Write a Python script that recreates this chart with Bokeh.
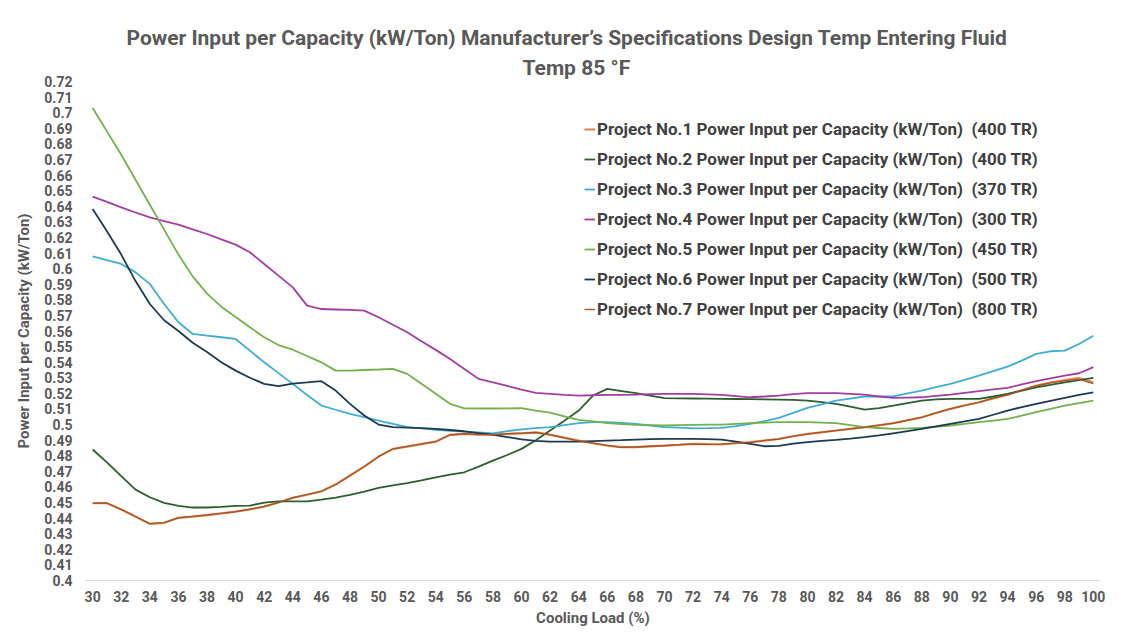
from bokeh.plotting import figure
from bokeh.models import Title, Legend, LegendItem, FixedTicker, Range1d
from bokeh.embed import file_html
from bokeh.resources import INLINE

loads = list(range(30, 101))

p1 = [0.4496, 0.4496, 0.4455, 0.4410, 0.4363, 0.4370, 0.4402, 0.4410, 0.4419, 0.4430,
      0.4442, 0.4456, 0.4474, 0.4500, 0.4530, 0.4550, 0.4572, 0.4615, 0.4673, 0.4730,
      0.4795, 0.4844, 0.4859, 0.4875, 0.4891, 0.4934, 0.4940, 0.4935, 0.4936, 0.4940,
      0.4944, 0.4950, 0.4935, 0.4915, 0.4897, 0.4880, 0.4865, 0.4855, 0.4855, 0.4860,
      0.4865, 0.4870, 0.4876, 0.4874, 0.4873, 0.4880, 0.4887, 0.4897, 0.4908, 0.4925,
      0.4940, 0.4950, 0.4962, 0.4972, 0.4983, 0.4995, 0.5009, 0.5027, 0.5047, 0.5074,
      0.5101, 0.5122, 0.5143, 0.5168, 0.5192, 0.5220, 0.5250, 0.5270, 0.5286, 0.5299,
      0.5271]
p2 = [0.4840, 0.4758, 0.4669, 0.4583, 0.4534, 0.4498, 0.4479, 0.4468, 0.4468, 0.4472,
      0.4479, 0.4480, 0.4500, 0.4508, 0.4508, 0.4508, 0.4519, 0.4532, 0.4549, 0.4570,
      0.4594, 0.4610, 0.4624, 0.4642, 0.4662, 0.4679, 0.4694, 0.4730, 0.4769, 0.4805,
      0.4844, 0.4900, 0.4962, 0.5025, 0.5090, 0.5186, 0.5229, 0.5215, 0.5201, 0.5185,
      0.5169, 0.5168, 0.5167, 0.5166, 0.5165, 0.5164, 0.5163, 0.5162, 0.5160, 0.5158,
      0.5154, 0.5144, 0.5133, 0.5115, 0.5096, 0.5105, 0.5122, 0.5138, 0.5154, 0.5162,
      0.5165, 0.5165, 0.5165, 0.5180, 0.5197, 0.5218, 0.5239, 0.5255, 0.5271, 0.5285,
      0.5299]
p3 = [0.6079, 0.6055, 0.6030, 0.5976, 0.5902, 0.5773, 0.5656, 0.5581, 0.5570, 0.5560,
      0.5549, 0.5474, 0.5399, 0.5330, 0.5261, 0.5190, 0.5122, 0.5095, 0.5068, 0.5047,
      0.5026, 0.5004, 0.4983, 0.4975, 0.4966, 0.4960, 0.4955, 0.4950, 0.4944, 0.4958,
      0.4969, 0.4977, 0.4983, 0.4996, 0.5009, 0.5015, 0.5015, 0.5010, 0.5004, 0.4994,
      0.4983, 0.4980, 0.4976, 0.4977, 0.4979, 0.4990, 0.5004, 0.5022, 0.5043, 0.5075,
      0.5107, 0.5130, 0.5154, 0.5167, 0.5180, 0.5180, 0.5180, 0.5200, 0.5218, 0.5240,
      0.5261, 0.5287, 0.5314, 0.5343, 0.5372, 0.5410, 0.5453, 0.5470, 0.5474, 0.5517,
      0.5570]
p4 = [0.6462, 0.6428, 0.6393, 0.6360, 0.6329, 0.6305, 0.6282, 0.6252, 0.6222, 0.6188,
      0.6154, 0.6105, 0.6030, 0.5955, 0.5880, 0.5763, 0.5741, 0.5738, 0.5735, 0.5731,
      0.5688, 0.5640, 0.5592, 0.5534, 0.5479, 0.5420, 0.5357, 0.5293, 0.5271, 0.5248,
      0.5224, 0.5203, 0.5197, 0.5190, 0.5186, 0.5188, 0.5190, 0.5191, 0.5192, 0.5195,
      0.5197, 0.5197, 0.5197, 0.5194, 0.5190, 0.5183, 0.5175, 0.5180, 0.5186, 0.5195,
      0.5201, 0.5201, 0.5201, 0.5197, 0.5192, 0.5180, 0.5171, 0.5173, 0.5175, 0.5184,
      0.5192, 0.5203, 0.5214, 0.5225, 0.5235, 0.5257, 0.5278, 0.5296, 0.5314, 0.5329,
      0.5368]
p5 = [0.7030, 0.6880, 0.6730, 0.6570, 0.6410, 0.6250, 0.6090, 0.5950, 0.5840, 0.5756,
      0.5690, 0.5624, 0.5560, 0.5510, 0.5480, 0.5440, 0.5399, 0.5346, 0.5346, 0.5350,
      0.5353, 0.5357, 0.5325, 0.5261, 0.5197, 0.5133, 0.5104, 0.5103, 0.5103, 0.5104,
      0.5106, 0.5090, 0.5076, 0.5053, 0.5030, 0.5020, 0.5009, 0.5003, 0.4998, 0.4996,
      0.4994, 0.4996, 0.4998, 0.4999, 0.5000, 0.5005, 0.5009, 0.5012, 0.5015, 0.5015,
      0.5015, 0.5012, 0.5009, 0.4996, 0.4983, 0.4978, 0.4972, 0.4975, 0.4979, 0.4986,
      0.4994, 0.5004, 0.5015, 0.5025, 0.5036, 0.5057, 0.5079, 0.5100, 0.5122, 0.5138,
      0.5154]
p6 = [0.6382, 0.6240, 0.6090, 0.5920, 0.5773, 0.5669, 0.5600, 0.5525, 0.5465, 0.5400,
      0.5346, 0.5300, 0.5261, 0.5246, 0.5263, 0.5270, 0.5278, 0.5218, 0.5133, 0.5058,
      0.5000, 0.4983, 0.4981, 0.4977, 0.4972, 0.4965, 0.4957, 0.4945, 0.4935, 0.4920,
      0.4905, 0.4895, 0.4890, 0.4890, 0.4890, 0.4894, 0.4897, 0.4900, 0.4904, 0.4906,
      0.4908, 0.4908, 0.4908, 0.4906, 0.4904, 0.4890, 0.4876, 0.4861, 0.4863, 0.4878,
      0.4887, 0.4895, 0.4902, 0.4910, 0.4919, 0.4930, 0.4944, 0.4958, 0.4972, 0.4988,
      0.5004, 0.5020, 0.5036, 0.5063, 0.5090, 0.5112, 0.5133, 0.5152, 0.5171, 0.5190,
      0.5207]
p7 = [0.4494, 0.4497, 0.4456, 0.4409, 0.4365, 0.4371, 0.4401, 0.4411, 0.4420, 0.4431,
      0.4441, 0.4457, 0.4475, 0.4499, 0.4531, 0.4551, 0.4571, 0.4616, 0.4672, 0.4731,
      0.4794, 0.4843, 0.4860, 0.4876, 0.4890, 0.4933, 0.4941, 0.4936, 0.4935, 0.4941,
      0.4945, 0.4949, 0.4934, 0.4916, 0.4896, 0.4881, 0.4866, 0.4854, 0.4856, 0.4861,
      0.4864, 0.4871, 0.4875, 0.4873, 0.4874, 0.4881, 0.4886, 0.4898, 0.4907, 0.4926,
      0.4939, 0.4951, 0.4961, 0.4973, 0.4982, 0.4996, 0.5008, 0.5028, 0.5046, 0.5075,
      0.5100, 0.5123, 0.5142, 0.5169, 0.5191, 0.5221, 0.5248, 0.5268, 0.5280, 0.5290,
      0.5262]

series_names = [
    "Project No.1 Power Input per Capacity (kW/Ton)  (400 TR)",
    "Project No.2 Power Input per Capacity (kW/Ton)  (400 TR)",
    "Project No.3 Power Input per Capacity (kW/Ton)  (370 TR)",
    "Project No.4 Power Input per Capacity (kW/Ton)  (300 TR)",
    "Project No.5 Power Input per Capacity (kW/Ton)  (450 TR)",
    "Project No.6 Power Input per Capacity (kW/Ton)  (500 TR)",
    "Project No.7 Power Input per Capacity (kW/Ton)  (800 TR)",
]
series_values = [p1, p2, p3, p4, p5, p6, p7]
colors = ["#E08A4E", "#2C5E30", "#3FADD3", "#A23DA3", "#72B14C", "#1E3A4E", "#A4532A"]
widths = [2.2, 1.8, 1.8, 1.8, 1.8, 1.8, 1.3]

x_ticks = list(range(30, 101, 2))
x_tick_labels = [str(v) for v in x_ticks]
y_ticks = [round(0.40 + 0.01 * i, 2) for i in range(33)]
y_tick_labels = [("%.2f" % v).rstrip("0").rstrip(".") for v in y_ticks]

title_line1 = "Power Input per Capacity (kW/Ton) Manufacturer\u2019s Specifications Design Temp Entering Fluid"
title_line2 = "Temp 85 \u00b0F"
x_title = "Cooling Load (%)"
y_title = "Power Input per Capacity (kW/Ton)"

FONT = "Roboto"
GRAY = "#595959"

p = figure(width=1144, height=632, output_backend="svg", toolbar_location=None,
           title=None, x_range=Range1d(29.5, 100.5), y_range=Range1d(0.40, 0.72),
           min_border_left=85, min_border_right=44, min_border_top=81, min_border_bottom=52)
p.background_fill_color = "white"
p.border_fill_color = "white"
p.outline_line_color = None
p.xgrid.visible = False
p.ygrid.visible = False

t2 = Title(text=title_line2, align="left", text_font=FONT, text_font_size="21px",
           text_font_style="bold", text_color=GRAY, offset=437, standoff=3)
p.add_layout(t2, "above")
t1 = Title(text=title_line1, align="left", text_font=FONT, text_font_size="21px",
           text_font_style="bold", text_color=GRAY, offset=41, standoff=6)
p.add_layout(t1, "above")

renderers = []
for vals, col, w in zip(series_values, colors, widths):
    r = p.line(loads, vals, line_color=col, line_width=w)
    renderers.append(r)

xa = p.xaxis[0]
xa.ticker = FixedTicker(ticks=x_ticks)
xa.major_label_overrides = dict(zip(x_ticks, x_tick_labels))
xa.axis_line_color = "#D9D9D9"
xa.axis_line_width = 1
xa.major_tick_line_color = None
xa.minor_tick_line_color = None
xa.major_tick_out = 0
xa.major_tick_in = 0
xa.minor_tick_out = 0
xa.major_label_text_font = FONT
xa.major_label_text_font_style = "bold"
xa.major_label_text_font_size = "14px"
xa.major_label_text_color = GRAY
xa.major_label_standoff = 10
xa.axis_label = x_title
xa.axis_label_text_font = FONT
xa.axis_label_text_font_style = "bold"
xa.axis_label_text_font_size = "15px"
xa.axis_label_text_color = GRAY
xa.axis_label_standoff = 4

ya = p.yaxis[0]
ya.ticker = FixedTicker(ticks=y_ticks)
ya.major_label_overrides = dict(zip(y_ticks, y_tick_labels))
ya.axis_line_color = None
ya.major_tick_line_color = None
ya.minor_tick_line_color = None
ya.major_tick_out = 0
ya.major_tick_in = 0
ya.minor_tick_out = 0
ya.major_label_text_font = FONT
ya.major_label_text_font_style = "bold"
ya.major_label_text_font_size = "14px"
ya.major_label_text_color = GRAY
ya.major_label_standoff = 13
ya.axis_label = y_title
ya.axis_label_text_font = FONT
ya.axis_label_text_font_style = "bold"
ya.axis_label_text_font_size = "15px"
ya.axis_label_text_color = GRAY
ya.axis_label_standoff = 8

items = [LegendItem(label=n, renderers=[r]) for n, r in zip(series_names, renderers)]
legend = Legend(items=items, location=(499, 256), orientation="vertical",
                label_text_font=FONT, label_text_font_style="bold", label_text_font_size="17px",
                label_text_color="#404040", glyph_width=11, glyph_height=30, label_height=30,
                label_standoff=2, spacing=0, padding=0, margin=0,
                border_line_color=None, background_fill_alpha=0)
p.add_layout(legend, "center")

open("out.html", "w").write(file_html(p, INLINE))
